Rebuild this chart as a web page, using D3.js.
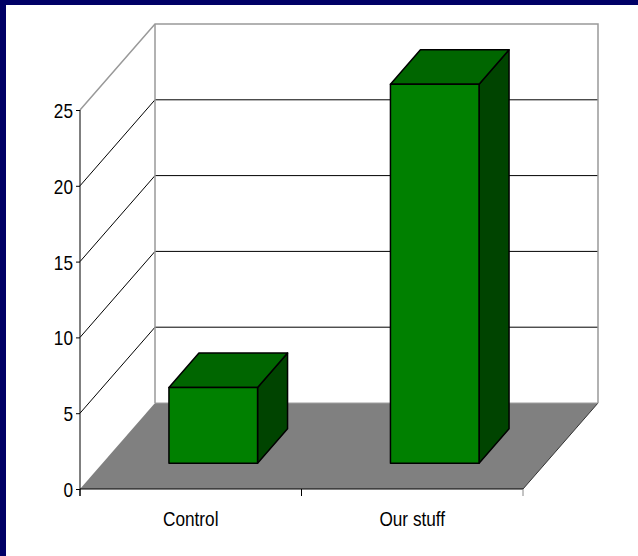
<!DOCTYPE html>
<html><head><meta charset="utf-8">
<script src="https://cdn.jsdelivr.net/npm/d3@7"></script>
<style>
html,body{margin:0;padding:0;background:#fff;}
svg{display:block;}
text{font-family:"Liberation Sans Narrow","Arial Narrow","Liberation Sans",Arial,sans-serif;fill:#000;}
</style></head>
<body>
<svg id="chart" width="638" height="556"></svg>
<script>
const categories = ["Control", "Our stuff"];
const values = [5, 25];
const yTicks = [0, 5, 10, 15, 20, 25];

const svg = d3.select("#chart");
const W = 638, H = 556;
const SX = 0.82; // horizontal condensing of text (narrow face)
svg.append("rect").attr("width", W).attr("height", H).attr("fill", "#fff");
// navy frame (top & left)
svg.append("rect").attr("x", 0).attr("y", 0).attr("width", W).attr("height", 5).attr("fill", "#000066");
svg.append("rect").attr("x", 0).attr("y", 0).attr("width", 6).attr("height", H).attr("fill", "#000066");

const x = d3.scaleBand().domain(categories).range([80, 523]);
const y = d3.scaleLinear().domain([0, 25]).range([489, 110]);
const DX = 75, DY = 86;
const P = (px, v, z) => [px + z * DX, y(v) - z * DY];
const line = d3.line();
const x0 = x.range()[0], x1 = x.range()[1];
const vmax = y.domain()[1];

// back wall
svg.append("path").attr("d", line([P(x0,0,1),P(x1,0,1),P(x1,vmax,1),P(x0,vmax,1)]) + "Z")
  .attr("fill", "#fff").attr("stroke", "none");
// side wall
svg.append("path").attr("d", line([P(x0,0,0),P(x0,0,1),P(x0,vmax,1),P(x0,vmax,0)]) + "Z")
  .attr("fill", "#fff").attr("stroke", "none");
// floor
svg.append("path").attr("d", line([P(x0,0,0),P(x0,0,1),P(x1,0,1),P(x1,0,0)]) + "Z")
  .attr("fill", "#808080").attr("stroke", "none");
svg.append("path").attr("d", line([P(x1,0,0),P(x1,0,1)]))
  .attr("stroke", "#333").attr("stroke-width", 1).attr("fill", "none");
svg.append("path").attr("d", line([P(x0,0,1),P(x1,0,1)]))
  .attr("stroke", "#a0a0a0").attr("stroke-width", 1.2).attr("fill", "none");

// gridlines
const grid = yTicks.filter(t => t > 0 && t < vmax);
grid.forEach(t => {
  svg.append("path").attr("d", line([P(x0,t,0),P(x0,t,1),P(x1,t,1)]))
    .attr("stroke", "#000").attr("stroke-width", 1).attr("fill", "none");
});
// wall edges (gray)
svg.append("path").attr("d", line([P(x0,vmax,0),P(x0,vmax,1),P(x1,vmax,1),P(x1,0,1)]))
  .attr("stroke", "#999").attr("stroke-width", 1.5).attr("fill", "none");
svg.append("path").attr("d", line([P(x0,0,1),P(x0,vmax,1)]))
  .attr("stroke", "#999").attr("stroke-width", 1.5).attr("fill", "none");

// bars
const z0 = 0.3, z1 = 0.7;
const bw = x.bandwidth() * 0.4;
categories.forEach((c, i) => {
  const v = values[i];
  const cx = x(c) + x.bandwidth() / 2;
  const L = cx - bw / 2, R = cx + bw / 2;
  const g = svg.append("g").attr("stroke", "#000").attr("stroke-width", 1.5).attr("stroke-linejoin", "round");
  g.append("path").attr("d", line([P(R,0,z0),P(R,0,z1),P(R,v,z1),P(R,v,z0)]) + "Z").attr("fill", "#004400");
  g.append("path").attr("d", line([P(L,v,z0),P(R,v,z0),P(R,v,z1),P(L,v,z1)]) + "Z").attr("fill", "#006600");
  g.append("path").attr("d", line([P(L,0,z0),P(R,0,z0),P(R,v,z0),P(L,v,z0)]) + "Z").attr("fill", "#008000");
});

// y axis
const yAxis = d3.axisLeft(y).tickValues(yTicks).tickSize(4).tickPadding(3).tickFormat(d3.format("d"));
const ya = svg.append("g").attr("transform", "translate(80,0)").call(yAxis);
ya.attr("font-family", null).attr("font-size", null);
ya.select(".domain").remove();
ya.selectAll(".tick line").attr("stroke", "#000");
ya.selectAll(".tick text").attr("font-size", 21).attr("fill", "#000").attr("dy", "0.36em")
  .attr("x", -7 / SX).attr("transform", `scale(${SX},1)`);
svg.append("line").attr("x1", 80).attr("x2", 80).attr("y1", y(vmax)).attr("y2", y(0) + 7).attr("stroke", "#000").attr("stroke-width", 1);

// x axis
svg.append("line").attr("x1", x0).attr("x2", x1).attr("y1", y(0)).attr("y2", y(0)).attr("stroke", "#000").attr("stroke-width", 1.2);
const bounds = categories.map(c => x(c)).concat([x1]);
bounds.forEach(b => {
  svg.append("line").attr("x1", b).attr("x2", b).attr("y1", y(0)).attr("y2", y(0) + 7)
    .attr("stroke", b === x1 ? "#888" : "#000").attr("stroke-width", 1);
});
const xAxis = d3.axisBottom(x).tickSize(0).tickPadding(0);
const xa = svg.append("g").attr("transform", `translate(0,${y(0)})`).call(xAxis);
xa.attr("font-family", null).attr("font-size", null);
xa.select(".domain").remove();
xa.selectAll(".tick text").attr("font-size", 21).attr("fill", "#000").attr("y", 37).attr("dy", 0)
  .attr("transform", `scale(${SX},1)`);
</script>
</body></html>
